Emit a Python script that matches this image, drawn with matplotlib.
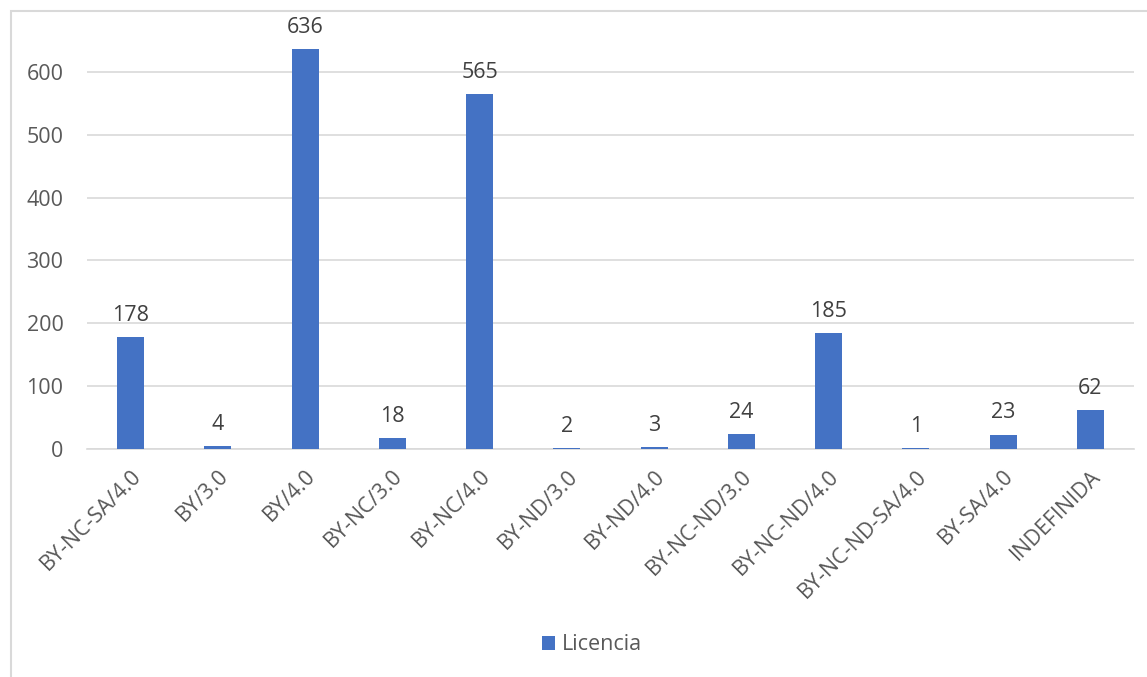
import matplotlib
matplotlib.use("Agg")
import matplotlib.pyplot as plt
from matplotlib.patches import Rectangle, Patch

categories = ["BY-NC-SA/4.0", "BY/3.0", "BY/4.0", "BY-NC/3.0", "BY-NC/4.0", "BY-ND/3.0",
              "BY-ND/4.0", "BY-NC-ND/3.0", "BY-NC-ND/4.0", "BY-NC-ND-SA/4.0", "BY-SA/4.0", "INDEFINIDA"]
values = [178, 4, 636, 18, 565, 2, 3, 24, 185, 1, 23, 62]
series_name = "Licencia"
yticks = [0, 100, 200, 300, 400, 500, 600]

plt.rcParams['font.family'] = ['Open Sans', 'DejaVu Sans']
FS = 15.5

fig = plt.figure(figsize=(11.47, 6.77), dpi=100)
# chart border
fig.patches.append(Rectangle((11/1147, -0.1), 1.2, 1 - 11/677 + 0.1, transform=fig.transFigure,
                             fill=False, edgecolor='#D9D9D9', linewidth=1.5))
ax = fig.add_axes([87/1147, 1 - 449/677, (1134 - 87)/1147, (449 - 9)/677])

x = list(range(len(categories)))
ax.bar(x, values, width=0.31, color='#4472C4', zorder=3)
for xi, v in zip(x, values):
    ax.annotate(str(v), (xi, v), xytext=(0, 8), textcoords='offset points', ha='center', va='bottom',
                fontsize=FS, color='#404040')

ax.set_xlim(-0.5, len(categories) - 0.5)
ax.set_ylim(0, 700)
ax.set_yticks(yticks)
ax.set_yticklabels([str(t) for t in yticks], fontsize=FS, color='#595959')
ax.grid(axis='y', color='#D9D9D9', linewidth=1.2, zorder=0)
for s in ['top', 'right', 'left']:
    ax.spines[s].set_visible(False)
ax.spines['bottom'].set_color('#D9D9D9')
ax.spines['bottom'].set_linewidth(1.2)
ax.tick_params(axis='both', length=0)
ax.tick_params(axis='y', pad=17)
ax.set_xticks(x)
ax.set_xticklabels(categories, rotation=45, ha='right', va='top', rotation_mode='anchor',
                   fontsize=FS, color='#595959')
ax.tick_params(axis='x', pad=12)

fig.legend(handles=[Patch(facecolor='#4472C4', label=series_name)], loc='center',
           bbox_to_anchor=(0.516, 1 - 645/677), frameon=False, fontsize=FS,
           labelcolor='#595959', handlelength=0.6, handleheight=0.6, handletextpad=0.3)

fig.savefig('out.png', dpi=100)
